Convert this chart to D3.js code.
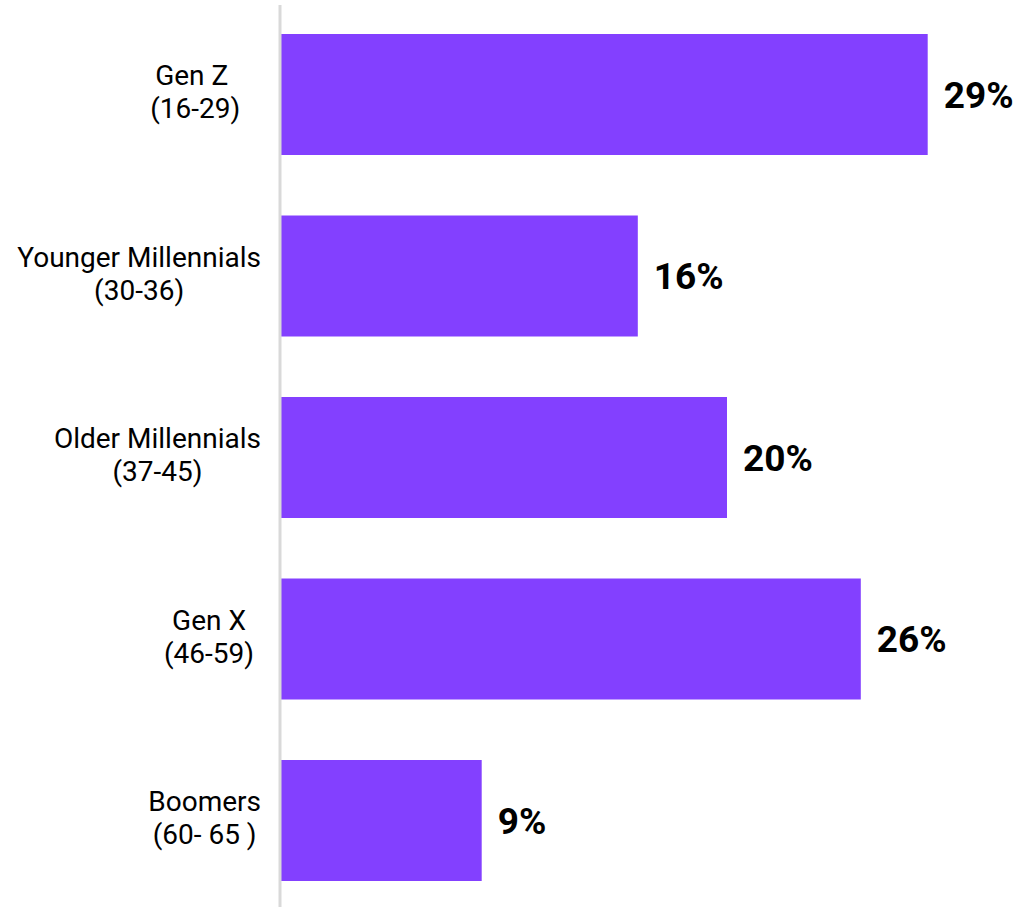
<!DOCTYPE html>
<html>
<head>
<meta charset="utf-8">
<script src="https://cdn.jsdelivr.net/npm/d3@7"></script>
<style>
  html, body { margin: 0; padding: 0; background: #fff; }
  svg { display: block; }
  .cat { font-family: Roboto, "Noto Sans", sans-serif; font-size: 28px; fill: #000; white-space: pre; }
  .val { font-family: Roboto, "Noto Sans", sans-serif; font-size: 37px; font-weight: bold; fill: #000; }
</style>
</head>
<body>
<div id="chart"></div>
<script>
// Generation groups, two lines each (trailing spaces kept as in the source labels)
const categories = ["genz", "young", "older", "genx", "boomers"];
const labelLines = [
  ["Gen Z    ", "(16-29)   "],
  ["Younger Millennials", "(30-36)"],
  ["Older Millennials", "(37-45)"],
  ["Gen X ", "(46-59) "],
  ["Boomers", "(60- 65 )"]
];
const values = [29, 16, 20, 26, 9];

const width = 1020;
const height = 907;
const margin = { top: 3.75, right: 70, bottom: -4.25, left: 281 };

const svg = d3
  .select("#chart")
  .append("svg")
  .attr("width", width)
  .attr("height", height);

// Scales
const xScale = d3
  .scaleLinear()
  .domain([0, 30])
  .range([margin.left, margin.left + 669]);

const yScale = d3
  .scaleBand()
  .domain(categories)
  .range([margin.top, height - margin.bottom])
  .paddingInner(1 / 3)
  .paddingOuter(1 / 6);

const data = categories.map((c, i) => ({ key: c, value: values[i], lines: labelLines[i] }));

// Bars
svg
  .selectAll(".bar")
  .data(data)
  .enter()
  .append("rect")
  .attr("class", "bar")
  .attr("x", xScale(0))
  .attr("y", (d) => yScale(d.key))
  .attr("width", (d) => xScale(d.value) - xScale(0))
  .attr("height", yScale.bandwidth())
  .attr("fill", "#8340FF");

// Vertical axis line
svg
  .append("line")
  .attr("x1", xScale(0) - 1)
  .attr("x2", xScale(0) - 1)
  .attr("y1", 5)
  .attr("y2", height)
  .attr("stroke", "#D9D9D9")
  .attr("stroke-width", 3);

// Value labels
svg
  .selectAll(".val")
  .data(data)
  .enter()
  .append("text")
  .attr("class", "val")
  .attr("x", (d) => xScale(d.value) + 16)
  .attr("y", (d) => yScale(d.key) + yScale.bandwidth() / 2)
  .attr("dy", "0.36em")
  .text((d) => d.value + "%");

// Category labels: lines centred inside a block whose right edge sits left of the axis
const labelRight = 261;
const lineGap = 33;
data.forEach((d) => {
  const g = svg.append("g");
  const texts = d.lines.map((line) =>
    g.append("text").attr("class", "cat").attr("xml:space", "preserve").text(line)
  );
  const blockW = d3.max(texts, (t) => t.node().getComputedTextLength());
  const cx = labelRight - blockW / 2;
  const cy = yScale(d.key) + yScale.bandwidth() / 2 - 3;
  texts.forEach((t, i) => {
    t.attr("x", cx)
      .attr("y", cy + (i - (d.lines.length - 1) / 2) * lineGap)
      .attr("dy", "0.36em")
      .attr("text-anchor", "middle");
  });
});
</script>
</body>
</html>
